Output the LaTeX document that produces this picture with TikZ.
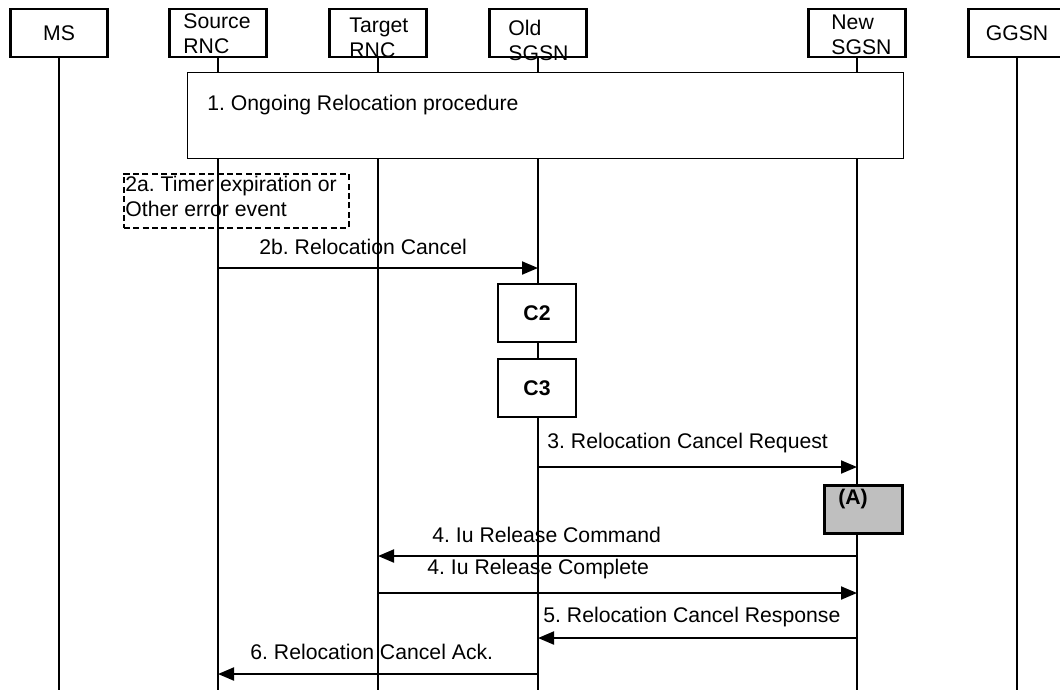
\documentclass[tikz,border=0pt]{standalone}
\usepackage{fontspec}
\setmainfont{Liberation Sans}
\usetikzlibrary{positioning,arrows.meta}
\frenchspacing

\begin{document}
\begin{tikzpicture}[
  x=0.5pt, y=-0.5pt,
  font=\fontsize{10.6}{12.5}\selectfont,
  entity/.style={rectangle, draw, line width=1.3pt, minimum width=48.5pt, minimum height=24pt, inner sep=0pt},
  head/.style={anchor=north west, align=left, inner sep=0pt},
  lifeline/.style={line width=1pt},
  procbox/.style={rectangle, draw, line width=0.6pt, fill=white, anchor=north west, minimum width=358pt, minimum height=43pt},
  evbox/.style={rectangle, draw, line width=0.8pt, dash pattern=on 3pt off 1.7pt, anchor=north west, minimum width=112.5pt, minimum height=27pt},
  actbox/.style={rectangle, draw, line width=1pt, fill=white, minimum width=39pt, minimum height=29pt, font=\fontsize{10.6}{12.5}\selectfont\bfseries},
  lbl/.style={anchor=west, inner sep=0pt},
  msg/.style={line width=1pt, -{Triangle[length=8pt, width=6.5pt]}}
]
\useasboundingbox (0,0) rectangle (1060,693);

% entities
\node[entity] (ms) at (59,33) {MS};
\node[entity] (src) at (218,33) {};
\node[entity] (tgt) at (378,33) {};
\node[entity] (old) at (538,33) {};
\node[entity] (new) at (857,33) {};
\node[entity] (gg) at (1017,33) {GGSN};
\node[head] (srct) at (183,13) {Source\\RNC};
\node[head] (tgtt) at (349,18) {Target\\RNC};
\node[head] (oldt) at (508,20) {Old\\SGSN};
\node[head] (newt) at (831,15) {New\\SGSN};

% lifelines
\coordinate (bottom) at (0,690);
\foreach \n in {ms,src,tgt,old,new,gg}
  \draw[lifeline] (\n.south) -- (\n.south |- bottom);

% step 1
\node[procbox] (proc) at (187,72) {};
\node[lbl] (proct) at (207,105) {1. Ongoing Relocation procedure};

% step 2a
\node[evbox] (ev) at (123,173) {};
\node[head] (evt) at (125,176) {2a. Timer expiration or\\Other error event};

% messages
\coordinate (m2b) at (0,268);
\coordinate (m3) at (0,467);
\coordinate (m4a) at (0,556);
\coordinate (m4b) at (0,593);
\coordinate (m5) at (0,638);
\coordinate (m6) at (0,674);

\node[lbl] (l2b) at (259,247) {2b. Relocation Cancel};
\draw[msg] (src |- m2b) -- (old |- m2b);

\node[actbox] (c2) at (537,313) {C2};
\node[actbox] (c3) at (537,388) {C3};

\node[lbl] (l3) at (547,443) {3. Relocation Cancel Request};
\draw[msg] (old |- m3) -- (new |- m3);

\node[rectangle, draw, line width=1.3pt, fill=gray!50, anchor=north west, minimum width=39pt, minimum height=24pt] (ga) at (823,484) {};
\node[font=\fontsize{10.6}{12.5}\selectfont\bfseries, inner sep=0pt] (gat) at (853,499) {(A)};

\node[lbl] (l4a) at (432,535) {4. Iu Release Command};
\draw[msg] (new |- m4a) -- (tgt |- m4a);

\node[lbl] (l4b) at (427,569) {4. Iu Release Complete};
\draw[msg] (tgt |- m4b) -- (new |- m4b);

\node[lbl] (l5) at (543,617) {5. Relocation Cancel Response};
\draw[msg] (new |- m5) -- (old |- m5);

\node[lbl] (l6) at (250,652) {6. Relocation Cancel Ack.};
\draw[msg] (old |- m6) -- (src |- m6);
\end{tikzpicture}
\end{document}
